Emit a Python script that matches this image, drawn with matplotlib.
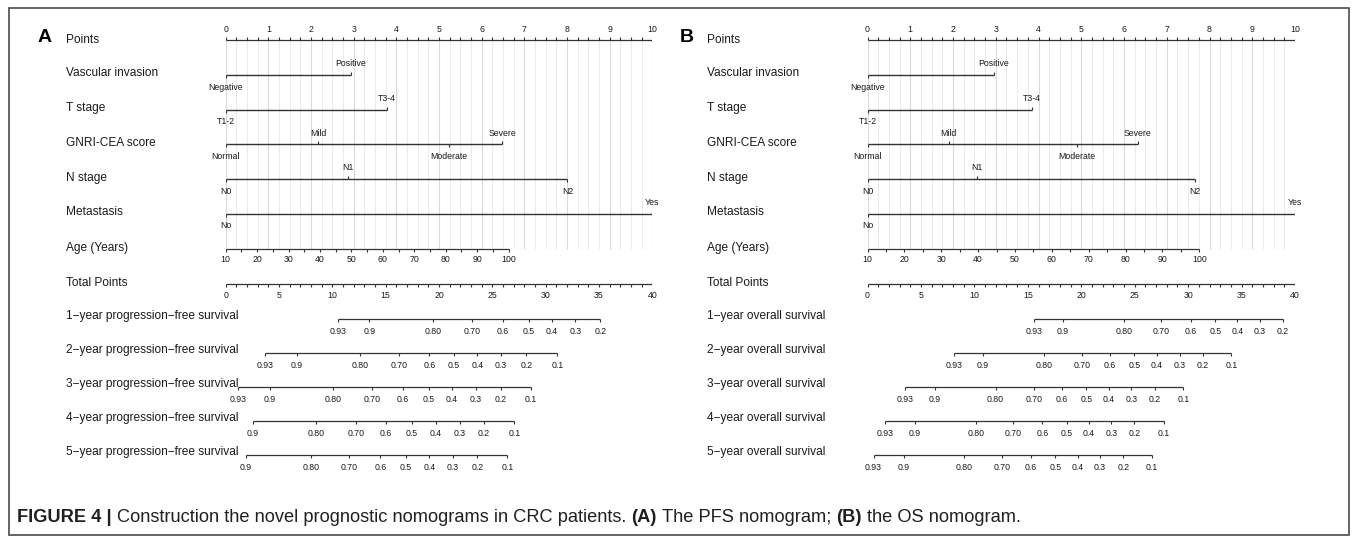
import numpy as np
import matplotlib
matplotlib.use("Agg")
import matplotlib.pyplot as plt
import matplotlib.transforms as mtransforms
from matplotlib.patches import Rectangle

plt.rcParams['font.family'] = ['Liberation Sans', 'DejaVu Sans']

W, H = 1357, 542

# ---------------- data ----------------
var_names = ["Vascular invasion", "T stage", "GNRI-CEA score", "N stage", "Metastasis"]
vasc_labels = ["Negative", "Positive"]
t_labels = ["T1-2", "T3-4"]
gnri_labels = ["Normal", "Mild", "Moderate", "Severe"]
n_labels = ["N0", "N1", "N2"]
met_labels = ["No", "Yes"]

# points given by each level (0-10 scale)
pfs_vasc = [0, 2.93]
pfs_t = [0, 3.78]
pfs_gnri = [0, 2.17, 5.23, 6.48]
pfs_n = [0, 2.87, 8.01]
pfs_met = [0, 10]
pfs_age_max = 6.63      # points at age 100 (age 10 = 0)

os_vasc = [0, 2.95]
os_t = [0, 3.85]
os_gnri = [0, 1.90, 4.89, 6.32]
os_n = [0, 2.56, 7.66]
os_met = [0, 10]
os_age_max = 7.76

age_ticks = [10, 20, 30, 40, 50, 60, 70, 80, 90, 100]

# survival scales: tick labels and their position on the total points axis
surv_93_2 = ["0.93", "0.9", "0.80", "0.70", "0.6", "0.5", "0.4", "0.3", "0.2"]
surv_93_1 = ["0.93", "0.9", "0.80", "0.70", "0.6", "0.5", "0.4", "0.3", "0.2", "0.1"]
surv_90_1 = ["0.9", "0.80", "0.70", "0.6", "0.5", "0.4", "0.3", "0.2", "0.1"]

pfs_names = ["1\u2212year progression\u2212free survival",
             "2\u2212year progression\u2212free survival",
             "3\u2212year progression\u2212free survival",
             "4\u2212year progression\u2212free survival",
             "5\u2212year progression\u2212free survival"]
pfs_labels = [surv_93_2, surv_93_1, surv_93_1, surv_90_1, surv_90_1]
pfs_1y = [10.5, 13.47, 19.43, 23.13, 25.96, 28.4, 30.55, 32.78, 35.13]
pfs_2y = [3.69, 6.65, 12.6, 16.27, 19.1, 21.4, 23.6, 25.8, 28.2, 31.1]
pfs_3y = [1.18, 4.14, 10.1, 13.75, 16.6, 19.07, 21.2, 23.45, 25.8, 28.6]
pfs_4y = [2.52, 8.44, 12.21, 15.05, 17.48, 19.68, 21.95, 24.2, 27.06]
pfs_5y = [1.9, 8.0, 11.6, 14.5, 16.9, 19.1, 21.3, 23.6, 26.4]

os_names = ["1\u2212year overall survival", "2\u2212year overall survival",
            "3\u2212year overall survival", "4\u2212year overall survival",
            "5\u2212year overall survival"]
os_labels = [surv_93_2, surv_93_1, surv_93_1, surv_93_1, surv_93_1]
os_1y = [15.55, 18.3, 23.97, 27.5, 30.24, 32.55, 34.6, 36.7, 38.87]
os_2y = [8.06, 10.8, 16.48, 20.04, 22.67, 24.98, 27.1, 29.2, 31.4, 34.05]
os_3y = [3.52, 6.32, 11.98, 15.55, 18.18, 20.49, 22.6, 24.7, 26.9, 29.55]
os_4y = [1.66, 4.45, 10.12, 13.64, 16.36, 18.66, 20.73, 22.83, 24.98, 27.7]
os_5y = [0.57, 3.4, 9.03, 12.55, 15.26, 17.57, 19.68, 21.74, 23.93, 26.64]

# ---------------- layout (pixels from top) ----------------
Y_POINTS = 39.5
Y_VARS = [75, 109.5, 144.3, 179, 213.5]
Y_AGE = 249
Y_TOTAL = 284
Y_SURV = [318.5, 352.5, 386.5, 420.5, 454.5]

TXT = "#1a1a1a"
LN = "#333333"
ROW_FS = 8.6
TICK_FS = 6.3

fig = plt.figure(figsize=(W / 100, H / 100), dpi=100)


def draw_panel(x0, x1, letter, levels, age_max, surv_names, surv_labels, surv_pos):
    ax = fig.add_axes([x0 / W, 0, (x1 - x0) / W, 1])
    ax.set_xlim(0, 10)
    ax.set_ylim(H, 0)
    ax.axis('off')
    lab = mtransforms.blended_transform_factory(fig.transFigure, ax.transData)
    lx = (x0 - 160) / W

    fig.text((x0 - 188) / W, 1 - 38 / H, letter, fontsize=14, fontweight='bold',
             color='black', ha='left', va='center')

    # grid
    grid = np.arange(0, 10.001, 0.25)
    ax.vlines(grid, Y_POINTS, Y_AGE, color="#ebebeb", lw=0.7, zorder=0)
    ax.vlines(np.arange(0, 11), Y_POINTS, Y_AGE, color="#d9d9d9", lw=0.8, zorder=0)

    # points axis
    ax.text(lx, Y_POINTS + 0.5, "Points", transform=lab, fontsize=ROW_FS, color=TXT,
            ha='left', va='center')
    ax.hlines(Y_POINTS, 0, 10, color=LN, lw=0.9)
    ax.vlines(grid, Y_POINTS - 2.7, Y_POINTS, color=LN, lw=0.8)
    for p in range(11):
        ax.text(p, Y_POINTS - 10.5, str(p), fontsize=TICK_FS, color=TXT,
                ha='center', va='center')

    # categorical predictors
    for name, y, (vals, labs) in zip(var_names, Y_VARS, levels):
        ax.text(lx, y - 1.5, name, transform=lab, fontsize=ROW_FS, color=TXT,
                ha='left', va='center')
        ax.hlines(y, min(vals), max(vals), color=LN, lw=1.0)
        order = sorted(zip(vals, labs))
        for i, (v, s) in enumerate(order):
            if i % 2 == 0:
                ax.vlines(v, y, y + 3, color=LN, lw=0.8)
                ax.text(v, y + 12, s, fontsize=TICK_FS, color=TXT, ha='center', va='center')
            else:
                ax.vlines(v, y - 3, y, color=LN, lw=0.8)
                ax.text(v, y - 11, s, fontsize=TICK_FS, color=TXT, ha='center', va='center')

    # age
    ax.text(lx, Y_AGE - 1.5, "Age (Years)", transform=lab, fontsize=ROW_FS, color=TXT,
            ha='left', va='center')
    age_x = lambda a: (np.asarray(a) - age_ticks[0]) / (age_ticks[-1] - age_ticks[0]) * age_max
    ax.hlines(Y_AGE, 0, age_max, color=LN, lw=0.9)
    minor = np.arange(age_ticks[0], age_ticks[-1] + 0.1, 5)
    ax.vlines(age_x(minor), Y_AGE, Y_AGE + 2.7, color=LN, lw=0.8)
    for a in age_ticks:
        ax.text(age_x(a), Y_AGE + 11, str(a), fontsize=TICK_FS, color=TXT,
                ha='center', va='center')

    # total points
    ax.text(lx, Y_TOTAL - 1.5, "Total Points", transform=lab, fontsize=ROW_FS, color=TXT,
            ha='left', va='center')
    ax.hlines(Y_TOTAL, 0, 10, color=LN, lw=0.9)
    ax.vlines(np.arange(0, 41) / 4, Y_TOTAL, Y_TOTAL + 2.7, color=LN, lw=0.8)
    for t in range(0, 41, 5):
        ax.text(t / 4, Y_TOTAL + 11, str(t), fontsize=TICK_FS, color=TXT,
                ha='center', va='center')

    # survival scales
    for name, y, labs, pos in zip(surv_names, Y_SURV, surv_labels, surv_pos):
        ax.text(lx, y - 2, name, transform=lab, fontsize=ROW_FS, color=TXT,
                ha='left', va='center')
        x = np.asarray(pos) / 4
        ax.hlines(y, x.min(), x.max(), color=LN, lw=0.9)
        ax.vlines(x, y, y + 3.3, color=LN, lw=0.8)
        for xi, s in zip(x, labs):
            ax.text(xi, y + 12.5, s, fontsize=TICK_FS, color=TXT, ha='center', va='center')


pfs_levels = [(pfs_vasc, vasc_labels), (pfs_t, t_labels), (pfs_gnri, gnri_labels),
              (pfs_n, n_labels), (pfs_met, met_labels)]
os_levels = [(os_vasc, vasc_labels), (os_t, t_labels), (os_gnri, gnri_labels),
             (os_n, n_labels), (os_met, met_labels)]

draw_panel(225.7, 652.3, "A", pfs_levels, pfs_age_max, pfs_names, pfs_labels,
           [pfs_1y, pfs_2y, pfs_3y, pfs_4y, pfs_5y])
draw_panel(867.5, 1295, "B", os_levels, os_age_max, os_names, os_labels,
           [os_1y, os_2y, os_3y, os_4y, os_5y])

# frame
fig.patches.append(Rectangle((8.5 / W, 1 - 535 / H), (1349 - 8.5) / W, (535 - 8) / H,
                             transform=fig.transFigure, fill=False,
                             ec="#4a4a4a", lw=1.2))

# caption, built piece by piece (bold / regular)
pieces = [("FIGURE 4 |", 'bold'),
          ("Construction the novel prognostic nomograms in CRC patients.", 'normal'),
          ("(A)", 'bold'), ("The PFS nomogram;", 'normal'),
          ("(B)", 'bold'), ("the OS nomogram.", 'normal')]
renderer = fig.canvas.get_renderer()


def text_w(s, fs, weight):
    t = fig.text(0, 0, s, fontsize=fs, fontweight=weight)
    w = t.get_window_extent(renderer).width
    t.remove()
    return w


def caption_width(fs):
    sp = text_w("x x", fs, 'normal') - text_w("xx", fs, 'normal')
    return sum(text_w(s, fs, w) for s, w in pieces) + sp * (len(pieces) - 1), sp


target = 1025 - 17
w12, _ = caption_width(12)
cap_fs = 12 * target / w12
_, space = caption_width(cap_fs)
cx = 17
for s, wt in pieces:
    t = fig.text(cx / W, 1 - 517 / H, s, fontsize=cap_fs, fontweight=wt,
                 color="#231f20", ha='left', va='center')
    cx += t.get_window_extent(renderer).width + space

fig.savefig("out.png", dpi=100)
